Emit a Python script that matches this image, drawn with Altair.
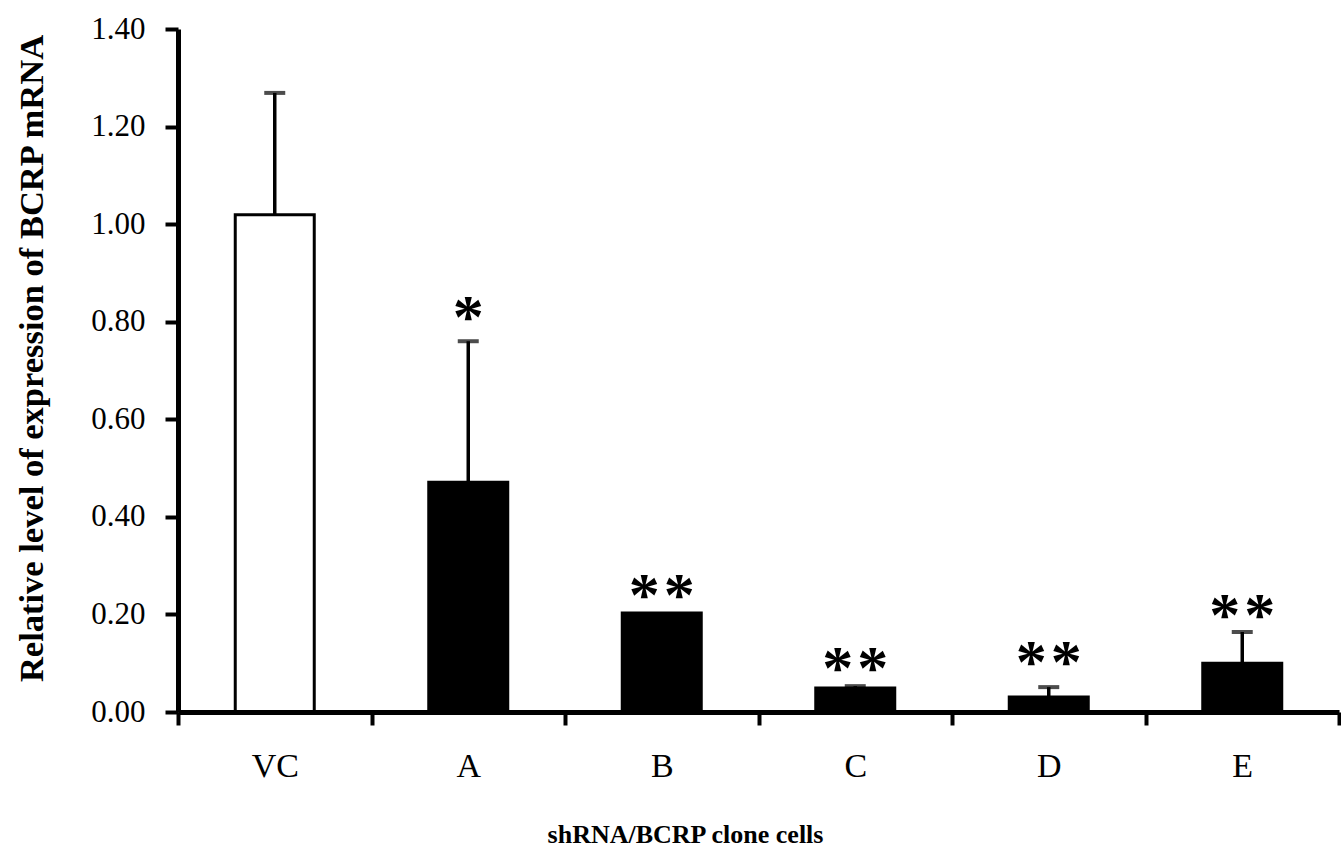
import altair as alt
import pandas as pd

clones = ["VC", "A", "B", "C", "D", "E"]
means = [1.019, 0.471, 0.203, 0.049, 0.031, 0.100]
sds = [0.250, 0.289, 0.0, 0.004, 0.020, 0.064]
stars = ["", "*", "**", "**", "**", "**"]
star_pos = [None, 0.830, 0.260, 0.111, 0.123, 0.219]
y_ticks = [0.0, 0.2, 0.4, 0.6, 0.8, 1.0, 1.2, 1.4]

df = pd.DataFrame({
    "clone": clones,
    "mean": means,
    "sd": sds,
    "stars": stars,
    "star_y": star_pos,
})
df["upper"] = df["mean"] + df["sd"]

FONT = "Liberation Serif"

x = alt.X(
    "clone:N",
    sort=clones,
    scale=alt.Scale(paddingInner=0, paddingOuter=0),
    axis=alt.Axis(
        title="shRNA/BCRP clone cells",
        labelAngle=0,
        tickBand="extent",
        tickSize=13,
        tickWidth=4,
        domainWidth=5,
        labelPadding=24,
        labelFontSize=34,
        titleFontSize=26,
        titleFontWeight="bold",
        titleX=507,
        titleY=122,
        titleAlign="center",
        titleBaseline="middle",
        zindex=1,
    ),
)
y_axis = alt.Axis(
    title="Relative level of expression of BCRP mRNA",
    values=y_ticks,
    format=".2f",
    tickSize=13,
    tickWidth=4,
    domainWidth=5,
    labelPadding=20,
    labelFontSize=31,
    titleFontSize=34.5,
    titleFontWeight="bold",
    titleX=-146,
    titleY=329,
    titleBaseline="middle",
    zindex=1,
)
yscale = alt.Scale(domain=[0, 1.4], nice=False, zero=True)

base = alt.Chart(df)

bars = base.mark_bar(size=79, strokeWidth=3, stroke="black").encode(
    x=x,
    y=alt.Y("mean:Q", scale=yscale, axis=y_axis),
    fill=alt.condition(alt.datum.clone == "VC", alt.value("white"), alt.value("black")),
)

err = base.transform_filter(alt.datum.sd > 0)
rules = err.mark_rule(color="black", strokeWidth=3.5).encode(
    x=alt.X("clone:N", sort=clones),
    y="mean:Q",
    y2="upper:Q",
)
caps = err.mark_tick(color="black", size=21, thickness=4).encode(
    x=alt.X("clone:N", sort=clones),
    y="upper:Q",
)

star_kw = dict(font=FONT, fontSize=62, fontWeight="bold", color="black",
               baseline="alphabetic", align="center", dy=30)
single = base.transform_filter(alt.datum.stars == "*").mark_text(**star_kw).encode(
    x=alt.X("clone:N", sort=clones), y="star_y:Q", text=alt.value("*"))
dbl = base.transform_filter(alt.datum.stars == "**")
left = dbl.mark_text(dx=-17.5, **star_kw).encode(
    x=alt.X("clone:N", sort=clones), y="star_y:Q", text=alt.value("*"))
right = dbl.mark_text(dx=17.5, **star_kw).encode(
    x=alt.X("clone:N", sort=clones), y="star_y:Q", text=alt.value("*"))

chart = alt.layer(bars, rules, caps, single, left, right).properties(
    width=1161,
    height=683,
    autosize=alt.AutoSizeParams(type="none"),
    padding={"left": 178, "top": 29, "right": 2, "bottom": 140},
    background="white",
).configure_view(stroke=None).configure_axis(
    grid=False,
    domainColor="black",
    tickColor="black",
    labelColor="black",
    titleColor="black",
    labelFont=FONT,
    titleFont=FONT,
)

chart.save("out.html", embed_options={"renderer": "svg", "actions": False})
